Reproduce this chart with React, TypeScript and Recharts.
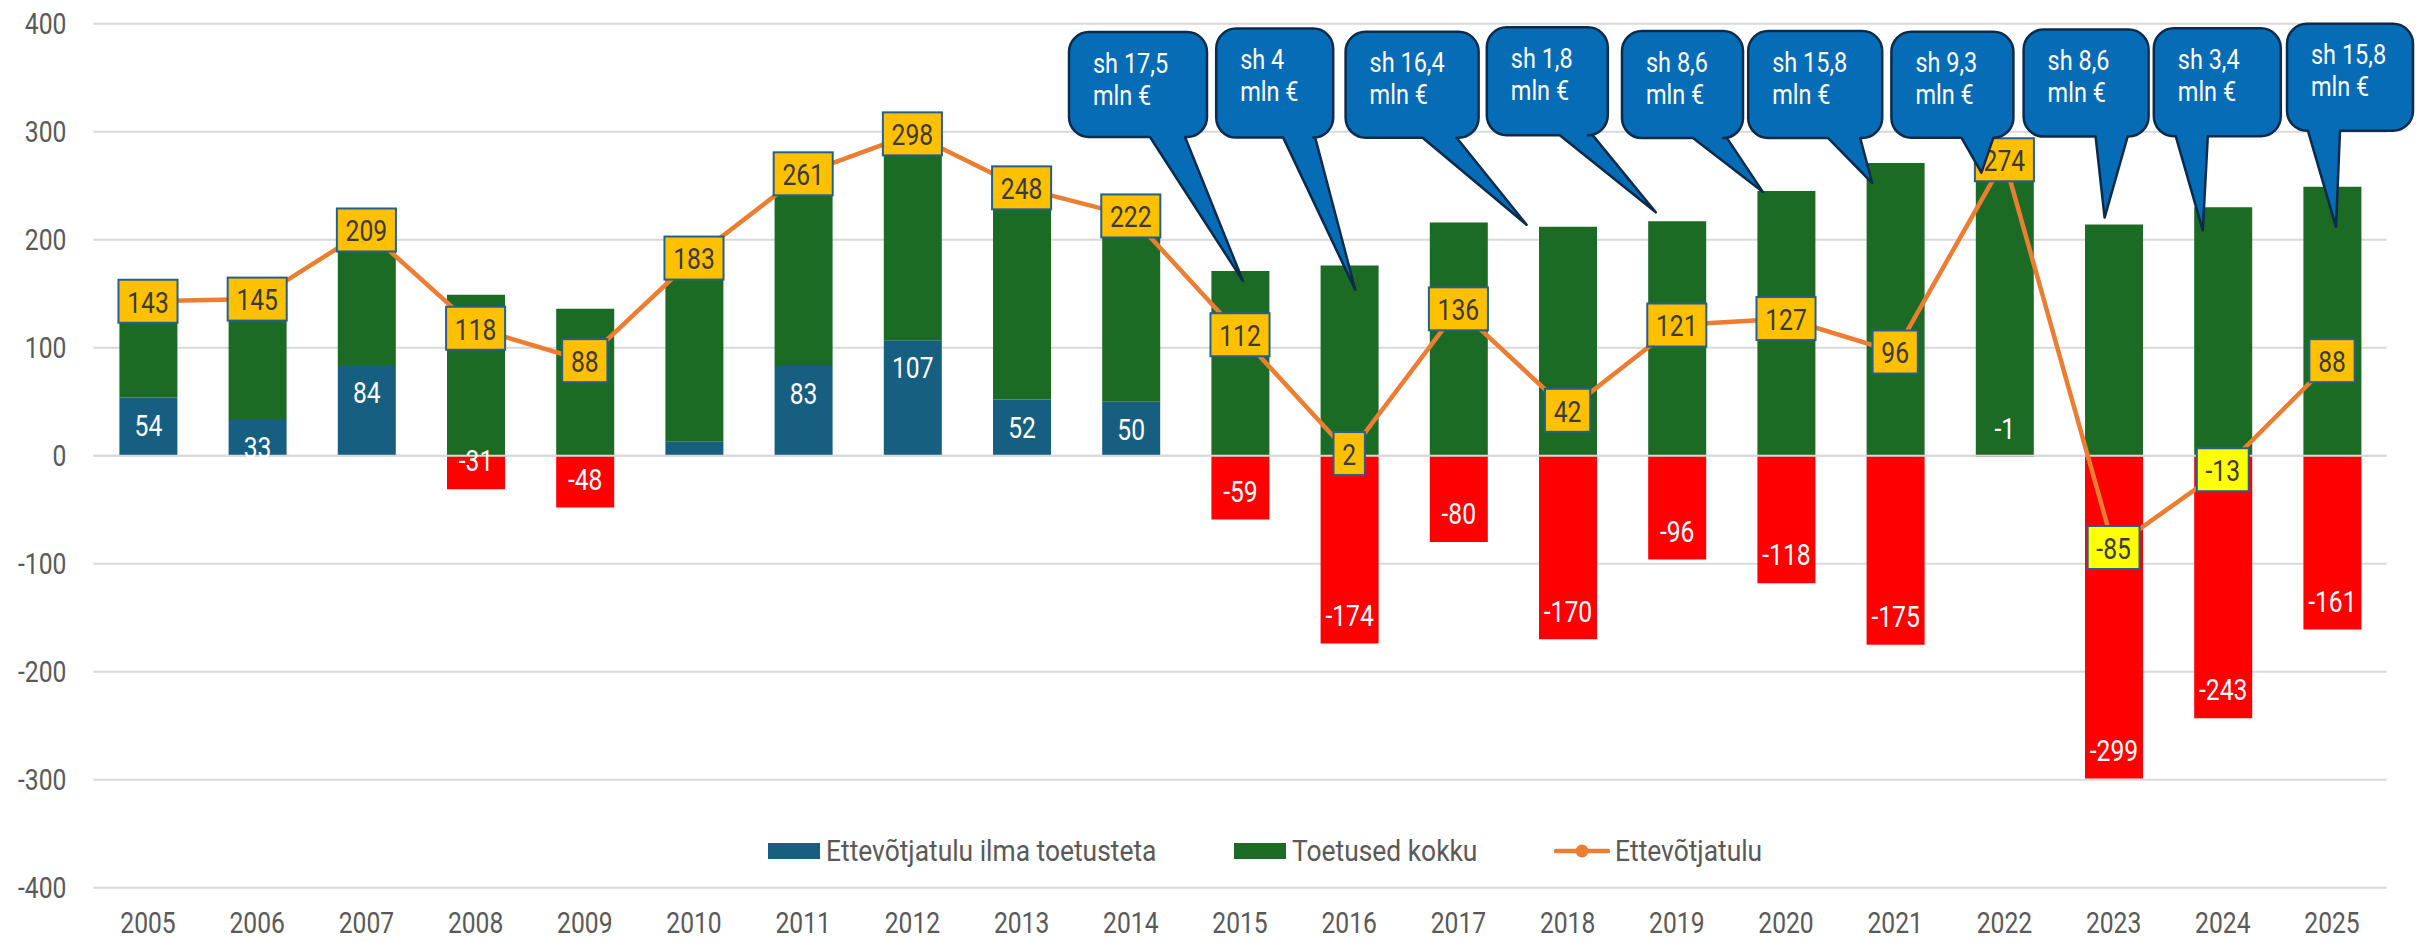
import React from 'react';
import {
  ComposedChart,
  Bar,
  Line,
  XAxis,
  YAxis,
  CartesianGrid,
  Cell,
  LabelList,
  Legend,
  ReferenceLine,
} from 'recharts';

// ---------- data ----------
const years = [
  '2005', '2006', '2007', '2008', '2009', '2010', '2011', '2012', '2013', '2014', '2015',
  '2016', '2017', '2018', '2019', '2020', '2021', '2022', '2023', '2024', '2025',
];
const incomeWithoutSupport = [
  54, 33, 84, -31, -48, 13, 83, 107, 52, 50, -59, -174, -80, -170, -96, -118, -175, -1, -299, -243, -161,
];
const supportTotal = [
  89, 112, 125, 149, 136, 170, 178, 191, 196, 172, 171, 176, 216, 212, 217, 245, 271, 275, 214, 230, 249,
];
const entrepreneurIncome = [
  143, 145, 209, 118, 88, 183, 261, 298, 248, 222, 112, 2, 136, 42, 121, 127, 96, 274, -85, -13, 88,
];
const yTicks = [-400, -300, -200, -100, 0, 100, 200, 300, 400];
const seriesNames = ['Ettevõtjatulu ilma toetusteta', 'Toetused kokku', 'Ettevõtjatulu'];
const calloutYears = ['2015', '2016', '2018', '2019', '2020', '2021', '2022', '2023', '2024', '2025'];
const calloutTexts = ['sh 17,5', 'sh 4', 'sh 16,4', 'sh 1,8', 'sh 8,6', 'sh 15,8', 'sh 9,3', 'sh 8,6', 'sh 3,4', 'sh 15,8'];
const calloutUnit = 'mln €';
const highlightedYears = ['2023', '2024'];
const unlabeledYears = ['2010'];

const rows = years.map((year, i) => ({
  year,
  own: incomeWithoutSupport[i],
  support: supportTotal[i],
  income: entrepreneurIncome[i],
}));

// ---------- styles / layout ----------
const BLUE = '#175F80';
const RED = '#FF0000';
const GREEN = '#1C6B25';
const ORANGE = '#ED7D31';
const GOLD = '#FFC000';
const LEMON = '#FFFF00';
const AXIS_TEXT = '#595959';
const FONT = 'Roboto, sans-serif';
const FS = 29;
const SX = 0.85;

// callout geometry relative to the anchor (category centre, top of support bar)
const calloutLayout = [
  { tdx: 3, tdy: 10, bx: -171, by: -239, w: 138, h: 105, tl: 81, tr: 116 },
  { tdx: 6, tdy: 24, bx: -133, by: -237, w: 117, h: 109, tl: 67, tr: 99 },
  { tdx: -41, tdy: -2, bx: -222, by: -195, w: 133, h: 106, tl: 77, tr: 111 },
  { tdx: -21, tdy: -9, bx: -190, by: -194, w: 121, h: 108, tl: 73, tr: 106 },
  { tdx: -23, tdy: 1, bx: -164, by: -160, w: 121, h: 107, tl: 71, tr: 105 },
  { tdx: -23, tdy: 20, bx: -147, by: -132, w: 134, h: 107, tl: 80, tr: 112 },
  { tdx: -23, tdy: 14, bx: -113, by: -127, w: 122, h: 106, tl: 70, tr: 102 },
  { tdx: -9, tdy: -7, bx: -90, by: -195, w: 125, h: 107, tl: 72, tr: 104 },
  { tdx: -20, tdy: 23, bx: -69, by: -179, w: 127, h: 108, tl: 22, tr: 54 },
  { tdx: 4, tdy: 40, bx: -45, by: -163, w: 126, h: 107, tl: 21, tr: 53 },
];

function SText({ x, y, anchor = 'middle', fill = AXIS_TEXT, fs = FS, sx = SX, children }: any) {
  return (
    <text
      transform={`translate(${x},${y}) scale(${sx},1)`}
      x={0}
      y={0}
      dy="0.355em"
      textAnchor={anchor}
      fontSize={fs}
      fontFamily={FONT}
      fill={fill}
    >
      {children}
    </text>
  );
}

function vbOf(p: any) {
  const vb = p.viewBox || {};
  return {
    x: vb.x ?? p.x ?? 0,
    y: vb.y ?? p.y ?? 0,
    width: vb.width ?? p.width ?? 0,
    height: vb.height ?? p.height ?? 0,
  };
}

const OwnLabel = (p: any) => {
  const { index, value } = p;
  if (value == null || unlabeledYears.includes(years[index])) return null;
  const { x, y, width, height } = vbOf(p);
  const top = Math.min(y, y + height);
  const bottom = Math.max(y, y + height);
  const cy = value >= 0 ? top + 28 : bottom - 28;
  return (
    <SText x={x + width / 2} y={cy} fill="#FFFFFF">
      {String(value)}
    </SText>
  );
};

function textWidth(s: string) {
  let w = 0;
  for (const ch of s) w += ch === '-' ? 0.27 : 0.562;
  return w * FS * SX;
}

const IncomeLabel = (p: any) => {
  const { index, value } = p;
  const { x, y } = vbOf(p);
  const txt = String(value);
  const w = textWidth(txt) + 17.5;
  const h = 43;
  const fill = highlightedYears.includes(years[index]) ? LEMON : GOLD;
  return (
    <g>
      <rect x={x - w / 2} y={y - h / 2} width={w} height={h} fill={fill} stroke="#24608F" strokeWidth={2} />
      <SText x={x} y={y + 1} fill="#3A3A3A">
        {txt}
      </SText>
    </g>
  );
};

const CalloutLabel = (p: any) => {
  const { index } = p;
  const k = calloutYears.indexOf(years[index]);
  if (k < 0) return null;
  const { x: cx, y: cy } = vbOf(p);
  const L0 = calloutLayout[k];
  const Lx = cx + L0.bx;
  const T = cy + L0.by;
  const R = Lx + L0.w;
  const B = T + L0.h;
  const tipX = cx + L0.tdx;
  const tipY = cy + L0.tdy;
  const r = 20;
  const d = [
    `M ${Lx + r} ${T}`,
    `H ${R - r}`,
    `A ${r} ${r} 0 0 1 ${R} ${T + r}`,
    `V ${B - r}`,
    `A ${r} ${r} 0 0 1 ${R - r} ${B}`,
    `H ${Lx + L0.tr}`,
    `L ${tipX} ${tipY}`,
    `L ${Lx + L0.tl} ${B}`,
    `H ${Lx + r}`,
    `A ${r} ${r} 0 0 1 ${Lx} ${B - r}`,
    `V ${T + r}`,
    `A ${r} ${r} 0 0 1 ${Lx + r} ${T}`,
    'Z',
  ].join(' ');
  return (
    <g>
      <path d={d} fill="#066CB5" stroke="#0B2B4D" strokeWidth={2.5} strokeLinejoin="round" />
      <SText x={Lx + 24} y={T + 31} anchor="start" fill="#FFFFFF" fs={27} sx={0.87}>
        {calloutTexts[k]}
      </SText>
      <SText x={Lx + 24} y={T + 63} anchor="start" fill="#FFFFFF" fs={27} sx={0.87}>
        {calloutUnit}
      </SText>
    </g>
  );
};

const XTick = (p: any) => (
  <SText x={p.x} y={p.y + 35}>
    {p.payload.value}
  </SText>
);

const YTick = (p: any) => (
  <SText x={p.x} y={p.y} anchor="end">
    {p.payload.value}
  </SText>
);

const LegendContent = () => {
  const cy = 21;
  const lsx = 0.91;
  return (
    <svg width={2432} height={42} style={{ display: 'block' }}>
      <rect x={768} y={cy - 8} width={52} height={16} fill={BLUE} />
      <SText x={826} y={cy} anchor="start" sx={lsx}>
        {seriesNames[0]}
      </SText>
      <rect x={1234} y={cy - 8} width={52} height={16} fill={GREEN} />
      <SText x={1292} y={cy} anchor="start" sx={lsx}>
        {seriesNames[1]}
      </SText>
      <line x1={1556} x2={1608} y1={cy} y2={cy} stroke={ORANGE} strokeWidth={4.5} strokeLinecap="round" />
      <circle cx={1582} cy={cy} r={6.5} fill={ORANGE} />
      <SText x={1615} y={cy} anchor="start" sx={lsx}>
        {seriesNames[2]}
      </SText>
    </svg>
  );
};

export default function App() {
  return (
    <div style={{ width: 2432, height: 941, background: '#FFFFFF', fontFamily: FONT }}>
      <style>{'body{margin:0}'}</style>
      <ComposedChart
        width={2432}
        height={941}
        data={rows}
        stackOffset="sign"
        margin={{ top: 23.7, right: 45.4, bottom: 0, left: 0 }}
      >
        <CartesianGrid vertical={false} stroke="#D9D9D9" strokeWidth={2} />
        <XAxis
          dataKey="year"
          axisLine={false}
          tickLine={false}
          tickSize={0}
          tickMargin={0}
          height={53.3}
          interval={0}
          tick={XTick}
        />
        <YAxis
          type="number"
          domain={[-400, 400]}
          ticks={yTicks}
          axisLine={false}
          tickLine={false}
          tickSize={0}
          tickMargin={27}
          width={93.4}
          interval={0}
          tick={YTick}
        />
        <Legend
          layout="horizontal"
          verticalAlign="middle"
          align="center"
          width={2432}
          wrapperStyle={{ top: 830, left: 0, width: 2432, height: 42 }}
          content={LegendContent}
        />
        <Bar dataKey="own" name={seriesNames[0]} stackId="s" barSize={58} fill={BLUE} isAnimationActive={false}>
          {rows.map((r, i) => (
            <Cell key={`c-${i}`} fill={r.own < 0 ? RED : BLUE} />
          ))}
          <LabelList dataKey="own" content={OwnLabel} />
        </Bar>
        <Bar dataKey="support" name={seriesNames[1]} stackId="s" barSize={58} fill={GREEN} isAnimationActive={false} />
        <ReferenceLine y={0} stroke="#D9D9D9" strokeWidth={2} />
        <Line
          dataKey="income"
          name={seriesNames[2]}
          type="linear"
          stroke={ORANGE}
          strokeWidth={4.5}
          dot={false}
          activeDot={false}
          isAnimationActive={false}
        >
          <LabelList dataKey="income" content={IncomeLabel} />
        </Line>
        <Line
          dataKey="support"
          type="linear"
          stroke="none"
          dot={false}
          activeDot={false}
          legendType="none"
          isAnimationActive={false}
        >
          <LabelList dataKey="support" content={CalloutLabel} />
        </Line>
      </ComposedChart>
    </div>
  );
}
